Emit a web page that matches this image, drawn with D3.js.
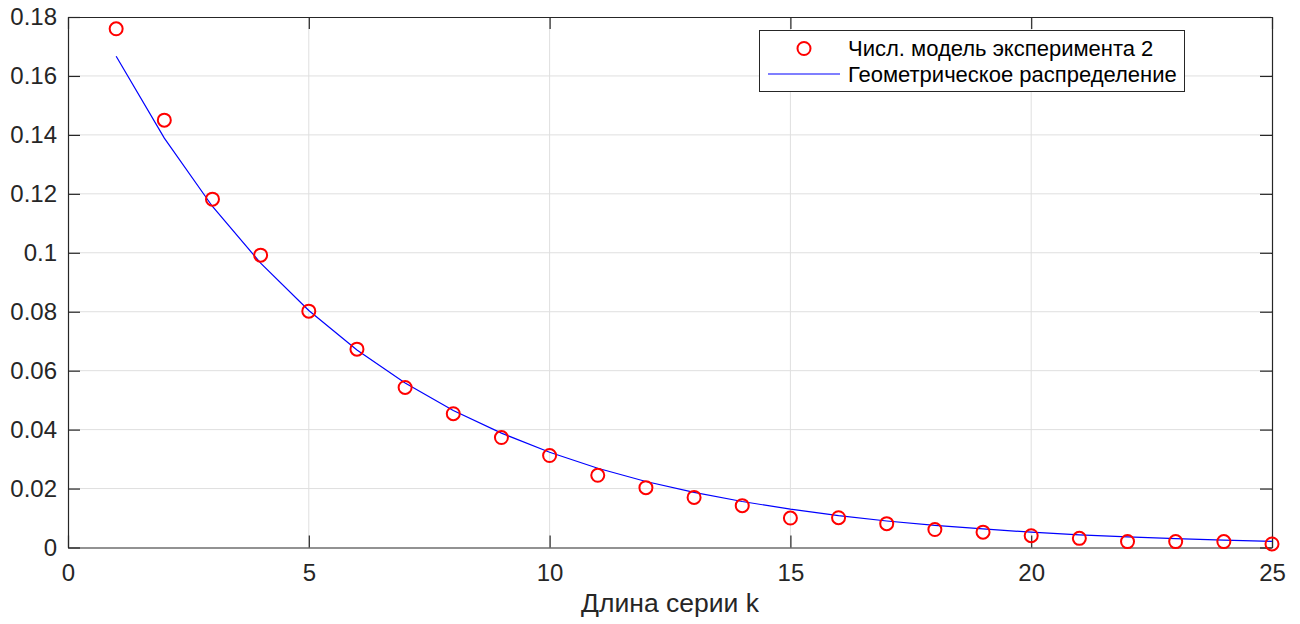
<!DOCTYPE html>
<html>
<head>
<meta charset="utf-8">
<script src="https://cdn.jsdelivr.net/npm/d3@7"></script>
<style>
  body { margin: 0; background: #fff; }
  svg { display: block; font-family: "Liberation Sans", Arial, Helvetica, sans-serif; }
</style>
</head>
<body>
<div id="canvas"></div>
<script>
// series length k
var kValues = [1, 2, 3, 4, 5, 6, 7, 8, 9, 10, 11, 12, 13, 14, 15, 16, 17, 18, 19, 20, 21, 22, 23, 24, 25];
// numerical model of experiment 2 (red circles)
var modelValues = [0.1760, 0.1450, 0.1182, 0.0992, 0.0802, 0.0673, 0.0543, 0.0454, 0.0373, 0.0312,
  0.0245, 0.0203, 0.0170, 0.0142, 0.0100, 0.0101, 0.0081, 0.0061, 0.0052, 0.0040,
  0.0031, 0.0020, 0.0020, 0.0020, 0.0012];
// geometric distribution (blue line)
var geomValues = [0.1667, 0.1389, 0.1157, 0.0965, 0.0804, 0.0670, 0.0558, 0.0465, 0.0388, 0.0323,
  0.0269, 0.0224, 0.0187, 0.0156, 0.0130, 0.0108, 0.0090, 0.0075, 0.0063, 0.0052,
  0.0043, 0.0036, 0.0030, 0.0025, 0.0021];
var xTicks = [0, 5, 10, 15, 20, 25];
var yTicks = [0, 0.02, 0.04, 0.06, 0.08, 0.1, 0.12, 0.14, 0.16, 0.18];
var legendLabels = ["Числ. модель эксперимента 2", "Геометрическое распределение"];
var xLabel = "Длина серии k";

var width = 1300, height = 624;
var margin = {left: 68, right: 28, top: 17, bottom: 76.5};
var axisColor = "#262626";

var svg = d3.select("#canvas").append("svg")
  .attr("width", width)
  .attr("height", height);

var x = d3.scaleLinear().domain([0, 25]).range([margin.left, width - margin.right]);
var y = d3.scaleLinear().domain([0, 0.18]).range([height - margin.bottom, margin.top]);

var fmt = function (d) { return d === 0 ? "0" : String(+d.toFixed(2)); };

// grid
svg.append("g").selectAll("line.gx")
  .data(xTicks.slice(1, -1))
  .enter().append("line")
  .attr("x1", function (d) { return x(d); })
  .attr("x2", function (d) { return x(d); })
  .attr("y1", y(0)).attr("y2", y(0.18))
  .attr("stroke", "#dfdfdf").attr("stroke-width", 1);
svg.append("g").selectAll("line.gy")
  .data(yTicks.slice(1, -1))
  .enter().append("line")
  .attr("y1", function (d) { return y(d); })
  .attr("y2", function (d) { return y(d); })
  .attr("x1", x(0)).attr("x2", x(25))
  .attr("stroke", "#dfdfdf").attr("stroke-width", 1);

// axes (ticks inside, labels outside)
svg.append("g")
  .attr("transform", "translate(0," + y(0) + ")")
  .call(d3.axisBottom(x).tickValues(xTicks).tickFormat(fmt).tickSizeInner(-12).tickSizeOuter(0).tickPadding(16));
svg.append("g")
  .attr("transform", "translate(" + x(0) + ",0)")
  .call(d3.axisLeft(y).tickValues(yTicks).tickFormat(fmt).tickSizeInner(-12).tickSizeOuter(0).tickPadding(11));
// mirror ticks on top / right
svg.append("g")
  .attr("transform", "translate(0," + y(0.18) + ")")
  .call(d3.axisTop(x).tickValues(xTicks).tickFormat("").tickSizeInner(-12).tickSizeOuter(0));
svg.append("g")
  .attr("transform", "translate(" + x(25) + ",0)")
  .call(d3.axisRight(y).tickValues(yTicks).tickFormat("").tickSizeInner(-12).tickSizeOuter(0));

svg.selectAll(".domain").attr("stroke", axisColor).attr("stroke-width", 1.2);
svg.selectAll(".tick line").attr("stroke", axisColor).attr("stroke-width", 1.2);
svg.selectAll(".tick text")
  .attr("fill", axisColor)
  .style("font-size", "24px")
  .style("font-family", "'Liberation Sans', Arial, Helvetica, sans-serif");

// blue line
var line = d3.line()
  .x(function (d, i) { return x(kValues[i]); })
  .y(function (d) { return y(d); });
svg.append("path")
  .datum(geomValues)
  .attr("fill", "none")
  .attr("stroke", "#0000ff")
  .attr("stroke-width", 1.2)
  .attr("d", line);

// red circles
svg.append("g").selectAll("circle")
  .data(modelValues)
  .enter().append("circle")
  .attr("cx", function (d, i) { return x(kValues[i]); })
  .attr("cy", function (d) { return y(d); })
  .attr("r", 6.5)
  .attr("fill", "none")
  .attr("stroke", "#ff0000")
  .attr("stroke-width", 2);

// x label
svg.append("text")
  .attr("x", (x(0) + x(25)) / 2)
  .attr("y", 612)
  .attr("text-anchor", "middle")
  .attr("fill", axisColor)
  .style("font-size", "26.5px")
  .text(xLabel);

// legend
var lg = svg.append("g");
lg.append("rect")
  .attr("x", 759.5).attr("y", 30.5)
  .attr("width", 425).attr("height", 61)
  .attr("fill", "#fff")
  .attr("stroke", axisColor).attr("stroke-width", 1);
lg.append("circle")
  .attr("cx", 804).attr("cy", 48.5)
  .attr("r", 6.5)
  .attr("fill", "none").attr("stroke", "#ff0000").attr("stroke-width", 2);
lg.append("line")
  .attr("x1", 768).attr("x2", 840)
  .attr("y1", 74).attr("y2", 74)
  .attr("stroke", "#0000ff").attr("stroke-width", 1.2);
lg.selectAll("text.lbl")
  .data(legendLabels)
  .enter().append("text")
  .attr("x", 848)
  .attr("y", function (d, i) { return 56 + i * 26; })
  .attr("fill", "#000")
  .style("font-size", "22px")
  .text(function (d) { return d; });
</script>
</body>
</html>
